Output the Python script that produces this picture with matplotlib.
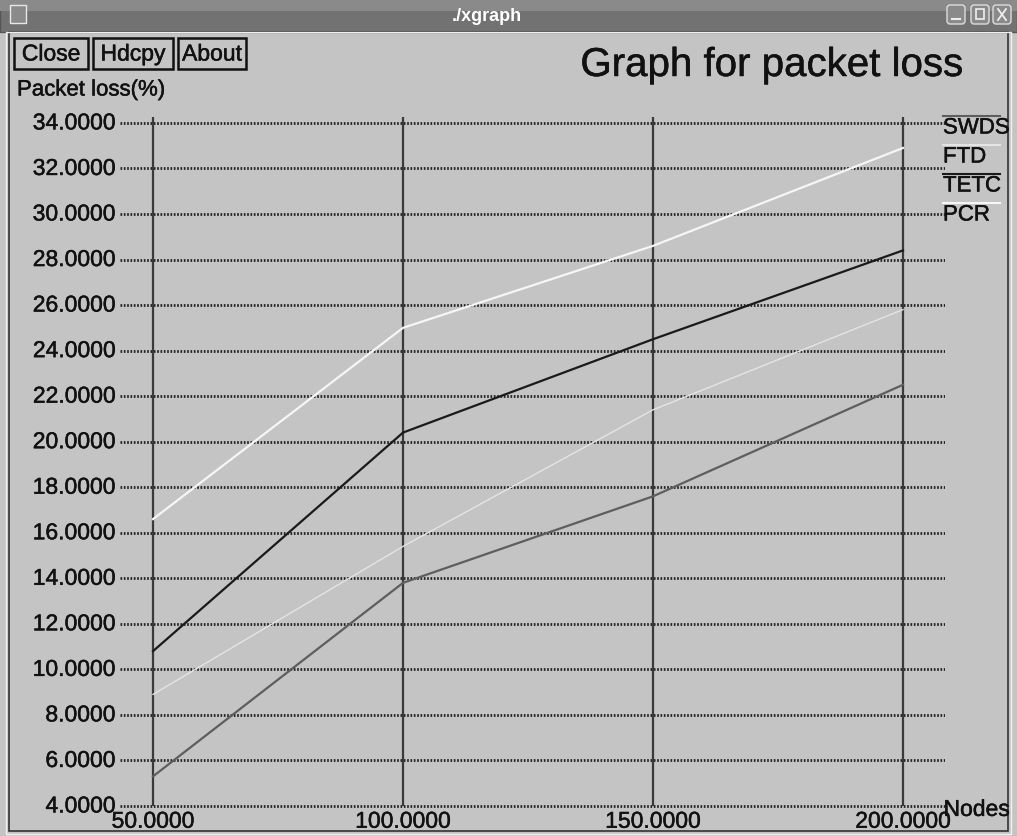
import matplotlib.pyplot as plt
import matplotlib.patches as patches
import matplotlib.patheffects as pe

# Packet loss (%) against number of nodes
nodes = [50, 100, 150, 200]
swds = [5.3, 13.8, 17.6, 22.5]
ftd = [8.9, 15.4, 21.4, 25.8]
tetc = [10.8, 20.4, 24.5, 28.4]
pcr = [16.6, 25.0, 28.6, 32.9]
series_names = ["SWDS", "FTD", "TETC", "PCR"]
series_colors = ["#5e5e5e", "#e4e4e4", "#1a1a1a", "#f6f6f6"]
series_widths = [1.6, 1.0, 1.6, 1.6]
y_ticks = [4, 6, 8, 10, 12, 14, 16, 18, 20, 22, 24, 26, 28, 30, 32, 34]

FONT = ["Liberation Sans", "DejaVu Sans"]
plt.rcParams["font.family"] = FONT
INK = "#111111"
# slightly heavier strokes for the black text
HEAVY = [pe.withStroke(linewidth=0.35, foreground=INK)]

W, H = 1017, 837
fig = plt.figure(figsize=(W / 100, H / 100), dpi=100)
fig.patch.set_facecolor("#c4c4c4")

# window chrome, drawn in pixel coordinates
bg = fig.add_axes([0, 0, 1, 1])
bg.set_xlim(0, W)
bg.set_ylim(H, 0)
bg.axis("off")
bg.add_patch(patches.Rectangle((0, 0), W, H, facecolor="#c4c4c4", edgecolor="none"))
bg.add_patch(patches.Rectangle((0, 0), W, 33, facecolor="#727272", edgecolor="#555555", lw=1))
bg.add_patch(patches.Rectangle((0, 0), W, 12, facecolor="#8a8a8a", edgecolor="none"))
bg.add_patch(patches.Rectangle((9, 33), W - 18, H - 38, facecolor="none", edgecolor="#333333", lw=1.2))
bg.add_patch(patches.Rectangle((6, 33), W - 12, H - 35, facecolor="none", edgecolor="#f0f0f0", lw=1))
bg.text(487, 16, "./xgraph", color="white", fontsize=13, fontweight="bold", ha="center", va="center")
bg.add_patch(patches.Rectangle((10, 6), 16, 18, facecolor="#8a8a8a", edgecolor="#e8e8e8", lw=1))
for bx in [956, 980, 1002]:
    bg.add_patch(patches.FancyBboxPatch((bx - 9, 6), 18, 19, boxstyle="round,pad=0,rounding_size=3",
                                        facecolor="#8a8a8a", edgecolor="#dddddd", lw=1))
bg.plot([952, 960], [20, 20], color="#eeeeee", lw=1.5)
bg.add_patch(patches.Rectangle((976, 10), 8, 10, facecolor="none", edgecolor="#eeeeee", lw=1.2))
bg.plot([998, 1006], [10, 21], color="#eeeeee", lw=1.3)
bg.plot([998, 1006], [21, 10], color="#eeeeee", lw=1.3)

for label, x0, x1 in [("Close", 14, 88), ("Hdcpy", 93, 173), ("About", 178, 246)]:
    bg.add_patch(patches.Rectangle((x0, 39), x1 - x0, 31, facecolor="none", edgecolor=INK, lw=1.8))
    bg.text((x0 + x1) / 2, 55, label, fontsize=16.5, ha="center", va="center", color=INK,
            path_effects=HEAVY)

bg.text(772, 66, "Graph for packet loss", fontsize=29, ha="center", va="center", color=INK,
        path_effects=HEAVY)
bg.text(17, 91, "Packet loss(%)", fontsize=16, ha="left", va="center", color=INK, path_effects=HEAVY)

# legend: short line above each name
legend_y = [127, 156, 185, 214]
for name, color, ly in zip(series_names, series_colors, legend_y):
    bg.text(943, ly + 2, name, fontsize=16, ha="left", va="center", color=INK, path_effects=HEAVY)
    bg.plot([943, 1000], [ly - 10, ly - 10], color=color, lw=1.5, zorder=5)

# plot area
x_lo, x_hi = 43.4, 208.4
y_lo, y_hi = 3.78, 34.26
left_px, right_px, top_px, bottom_px = 120, 945, 118, 812
ax = fig.add_axes([left_px / W, 1 - bottom_px / H, (right_px - left_px) / W, (bottom_px - top_px) / H])
ax.set_xlim(x_lo, x_hi)
ax.set_ylim(y_lo, y_hi)
ax.axis("off")
ax.patch.set_alpha(0)

ax.hlines(y_ticks, x_lo, x_hi, colors="#222222", linestyles=(0, (0.6, 0.6)), lw=2.0, zorder=1)
ax.vlines(nodes, 4, y_hi, colors="#3a3a3a", lw=1.6, zorder=1)

for yv in y_ticks:
    ax.text(x_lo - 0.9, yv, f"{yv:.4f}", fontsize=16.5, ha="right", va="center", color=INK,
            path_effects=HEAVY)
for xv in nodes:
    ax.text(xv, 3.33, f"{xv:.4f}", fontsize=16.5, ha="center", va="center", color=INK, clip_on=False,
            path_effects=HEAVY)
ax.text(x_hi - 0.3, 3.85, "Nodes", fontsize=16.5, ha="left", va="center", color=INK, path_effects=HEAVY)

for vals, color, lw in zip([swds, ftd, tetc, pcr], series_colors, series_widths):
    ax.plot(nodes, vals, color=color, lw=lw, zorder=3)

fig.savefig("out.png", dpi=100)
